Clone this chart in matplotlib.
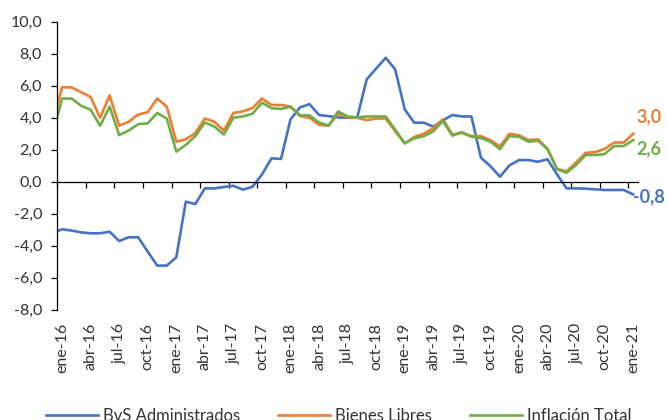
import numpy as np
import matplotlib
matplotlib.use('Agg')
import matplotlib.pyplot as plt

#-------------------------------------------------------------
#Data (dic-15 to ene-21, monthly, %)
#-------------------------------------------------------------
abrev = ['ene', 'feb', 'mar', 'abr', 'may', 'jun', 'jul', 'ago', 'sep', 'oct', 'nov', 'dic']
meses = ['dic-15'] + [f'{m}-{y}' for y in range(16, 21) for m in abrev] + ['ene-21']

bvs_admin = [-3.2,
             -2.98, -3.06, -3.17, -3.23, -3.23, -3.13, -3.71, -3.48, -3.48, -4.38, -5.25, -5.25,
             -4.73, -1.25, -1.4, -0.42, -0.42, -0.33, -0.26, -0.5, -0.32, 0.45, 1.46, 1.42,
             3.9, 4.65, 4.85, 4.17, 4.1, 4.02, 4.0, 4.0, 6.4, 7.08, 7.75, 7.02,
             4.52, 3.69, 3.69, 3.44, 3.83, 4.17, 4.08, 4.08, 1.5, 0.97, 0.31, 1.02,
             1.35, 1.35, 1.25, 1.4, 0.45, -0.42, -0.42, -0.44, -0.48, -0.52, -0.52, -0.52,
             -0.8]

bienes_libres = [3.6,
                 5.9, 5.9, 5.6, 5.3, 4.0, 5.4, 3.5, 3.75, 4.2, 4.35, 5.2, 4.7,
                 2.5, 2.65, 3.05, 3.95, 3.75, 3.2, 4.3, 4.4, 4.6, 5.2, 4.8, 4.8,
                 4.7, 4.1, 4.0, 3.55, 3.5, 4.25, 4.02, 4.0, 3.85, 3.95, 3.95, 3.15,
                 2.4, 2.8, 3.0, 3.35, 3.9, 2.95, 3.05, 2.85, 2.85, 2.6, 2.2, 3.0,
                 2.9, 2.6, 2.65, 2.05, 0.8, 0.65, 1.2, 1.8, 1.85, 2.05, 2.45, 2.45,
                 3.0]

inflacion_total = [2.9,
                   5.2, 5.2, 4.75, 4.5, 3.5, 4.7, 2.92, 3.2, 3.6, 3.65, 4.3, 3.95,
                   1.88, 2.3, 2.85, 3.7, 3.45, 2.95, 4.0, 4.08, 4.25, 4.94, 4.6, 4.55,
                   4.69, 4.15, 4.15, 3.7, 3.5, 4.4, 4.08, 4.02, 4.08, 4.08, 4.08, 3.25,
                   2.4, 2.71, 2.85, 3.15, 3.8, 2.88, 3.1, 2.81, 2.73, 2.5, 2.04, 2.85,
                   2.81, 2.5, 2.56, 2.04, 0.77, 0.56, 1.04, 1.67, 1.67, 1.73, 2.23, 2.23,
                   2.6]

#-------------------------------------------------------------
#Plot
#-------------------------------------------------------------
plt.rcParams['font.family'] = ['Lato', 'DejaVu Sans']
txt = '#333333'
c_blue, c_orange, c_green = '#4472C4', '#ED7D31', '#70AD47'

x = np.arange(-1, len(meses) - 1)

fig = plt.figure(figsize=(6.67, 4.2), dpi=100)
ax = fig.add_axes([0.0859, 0.263, 0.8706, 0.685])

ax.plot(x, bvs_admin, color=c_blue, lw=1.9, label='BvS Administrados')
ax.plot(x, bienes_libres, color=c_orange, lw=1.9, label='Bienes Libres')
ax.plot(x, inflacion_total, color=c_green, lw=1.9, label='Inflación Total')

ax.set_xlim(-0.5, x[-1] + 0.5)
ax.set_ylim(-8, 10)

yt = np.arange(-8, 11, 2)
ax.set_yticks(yt, [f'{v:.1f}'.replace('.', ',') for v in yt])
ax.tick_params(axis='y', direction='out', length=4, width=0.9, pad=7,
               labelsize=11.5, labelcolor=txt)

ax.spines['top'].set_visible(False)
ax.spines['right'].set_visible(False)
ax.spines['left'].set_linewidth(0.9)
ax.spines['bottom'].set_position(('data', 0))
ax.spines['bottom'].set_linewidth(0.9)

# tick marks between categories, on the zero line
ax.set_xticks(np.arange(-0.5, x[-1], 3))
ax.tick_params(axis='x', direction='out', length=4, width=0.9, labelbottom=False)

# labels at the bottom of the plot
sec = ax.secondary_xaxis('bottom')
sec.set_xticks(x[1::3], meses[1::3])
sec.tick_params(length=0, pad=9.5, rotation=90, labelsize=11.5, labelcolor=txt)
sec.spines['bottom'].set_visible(False)

# end labels
fin = [(bvs_admin[-1], c_blue, (0, -1.5)),
       (bienes_libres[-1], c_orange, (2, 12)),
       (inflacion_total[-1], c_green, (2, -6))]
for v, c, off in fin:
    ax.annotate(f'{v:.1f}'.replace('.', ','), xy=(x[-1], v),
                xytext=off, textcoords='offset points', ha='left', va='center',
                color=c, fontsize=13, fontweight='bold')

fig.legend(loc='center', bbox_to_anchor=(0.508, 0.01), ncol=3, frameon=False,
           fontsize=12, handlelength=3.1, handletextpad=0.3, columnspacing=2.3,
           borderpad=0, labelcolor=txt)

plt.savefig('out.png', dpi=100)
